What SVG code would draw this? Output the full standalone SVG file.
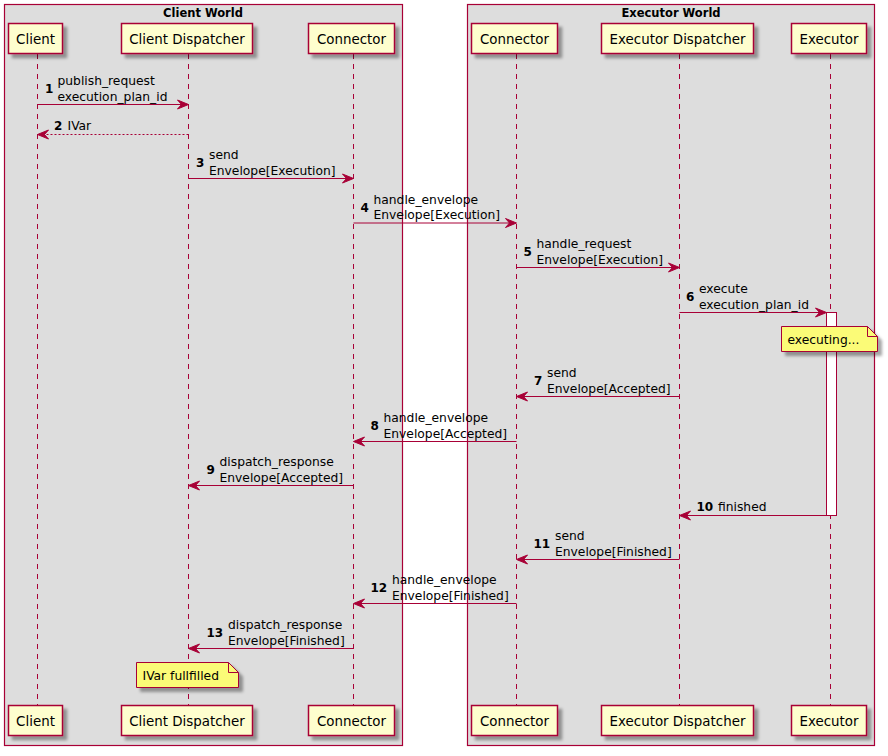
<svg xmlns="http://www.w3.org/2000/svg" width="888" height="756" viewBox="0 0 888 756">
<style>
  .grp { fill: #DDDDDD; stroke: #A80036; stroke-width: 1.2; }
  .gt { font-family: "DejaVu Sans", sans-serif; font-weight: bold; font-size: 11.5px; fill: #000; text-anchor: middle; }
  .part { fill: #FEFECE; stroke: #A80036; stroke-width: 1.5; }
  .pt { font-family: "DejaVu Sans", sans-serif; font-size: 13.4px; fill: #000; text-anchor: middle; }
  .life { stroke: #A80036; stroke-width: 1; stroke-dasharray: 5,5; fill: none; }
  .msg { stroke: #A80036; stroke-width: 1; fill: none; }
  .ret { stroke: #A80036; stroke-width: 1; stroke-dasharray: 2,2; fill: none; }
  .head { fill: #A80036; stroke: #A80036; stroke-width: 1; }
  .mt { font-family: "DejaVu Sans", sans-serif; font-size: 12.3px; fill: #000; }
  .num { font-family: "DejaVu Sans", sans-serif; font-size: 12px; font-weight: bold; fill: #000; }
  .note { fill: #FBFB77; stroke: #A80036; stroke-width: 1; }
  .act { fill: #FFFFFF; stroke: #A80036; stroke-width: 1; }
</style>
<defs>
  <filter id="sh" x="-20%" y="-20%" width="150%" height="160%">
    <feGaussianBlur in="SourceAlpha" stdDeviation="1.7"/>
    <feOffset dx="4" dy="4" result="b"/>
    <feColorMatrix in="b" type="matrix" values="0 0 0 0 0  0 0 0 0 0  0 0 0 0 0  0 0 0 0.35 0" result="c"/>
    <feMerge><feMergeNode in="c"/><feMergeNode in="SourceGraphic"/></feMerge>
  </filter>
</defs>
<rect width="888" height="756" fill="#FFFFFF"/>

<g id="client-world">
  <rect class="grp" x="4.5" y="4.5" width="398" height="741"/>
  <text class="gt" x="203" y="17">Client World</text>
</g>
<g id="executor-world">
  <rect class="grp" x="467.5" y="4.5" width="407" height="741"/>
  <text class="gt" x="671" y="17">Executor World</text>
</g>

<g id="lifelines">
  <line class="life" x1="37.5" y1="54" x2="37.5" y2="705"/>
  <line class="life" x1="188.5" y1="54" x2="188.5" y2="705"/>
  <line class="life" x1="353.5" y1="54" x2="353.5" y2="705"/>
  <line class="life" x1="516.5" y1="54" x2="516.5" y2="705"/>
  <line class="life" x1="679.5" y1="54" x2="679.5" y2="705"/>
  <line class="life" x1="830.5" y1="54" x2="830.5" y2="705"/>
</g>

<g id="p-client">
  <rect class="part" filter="url(#sh)" x="8.5" y="23.5" width="54" height="30"/>
  <text class="pt" x="35.5" y="44">Client</text>
  <rect class="part" filter="url(#sh)" x="8.5" y="705.5" width="54" height="30"/>
  <text class="pt" x="35.5" y="726">Client</text>
</g>
<g id="p-client-dispatcher">
  <rect class="part" filter="url(#sh)" x="121.5" y="23.5" width="131" height="30"/>
  <text class="pt" x="187" y="44">Client Dispatcher</text>
  <rect class="part" filter="url(#sh)" x="121.5" y="705.5" width="131" height="30"/>
  <text class="pt" x="187" y="726">Client Dispatcher</text>
</g>
<g id="p-connector-client">
  <rect class="part" filter="url(#sh)" x="308.5" y="23.5" width="86" height="30"/>
  <text class="pt" x="351.5" y="44">Connector</text>
  <rect class="part" filter="url(#sh)" x="308.5" y="705.5" width="86" height="30"/>
  <text class="pt" x="351.5" y="726">Connector</text>
</g>
<g id="p-connector-executor">
  <rect class="part" filter="url(#sh)" x="471.5" y="23.5" width="86" height="30"/>
  <text class="pt" x="514.5" y="44">Connector</text>
  <rect class="part" filter="url(#sh)" x="471.5" y="705.5" width="86" height="30"/>
  <text class="pt" x="514.5" y="726">Connector</text>
</g>
<g id="p-executor-dispatcher">
  <rect class="part" filter="url(#sh)" x="601.5" y="23.5" width="152" height="30"/>
  <text class="pt" x="677.5" y="44">Executor Dispatcher</text>
  <rect class="part" filter="url(#sh)" x="601.5" y="705.5" width="152" height="30"/>
  <text class="pt" x="677.5" y="726">Executor Dispatcher</text>
</g>
<g id="p-executor">
  <rect class="part" filter="url(#sh)" x="791.5" y="23.5" width="75" height="30"/>
  <text class="pt" x="829" y="44">Executor</text>
  <rect class="part" filter="url(#sh)" x="791.5" y="705.5" width="75" height="30"/>
  <text class="pt" x="829" y="726">Executor</text>
</g>

<g id="activation">
  <rect class="act" x="826.5" y="312.5" width="10" height="203"/>
</g>

<g id="connectors">
  <!-- 1 -->
  <line class="msg" x1="37.5" y1="104.5" x2="186" y2="104.5"/>
  <polygon class="head" points="177.5,100 188.5,104.5 177.5,109 181.5,104.5"/>
  <!-- 2 -->
  <line class="ret" x1="188.5" y1="134.5" x2="40" y2="134.5"/>
  <polygon class="head" points="48.5,130 37.5,134.5 48.5,139 44.5,134.5"/>
  <!-- 3 -->
  <line class="msg" x1="188.5" y1="178.5" x2="351" y2="178.5"/>
  <polygon class="head" points="342.5,174 353.5,178.5 342.5,183 346.5,178.5"/>
  <!-- 4 -->
  <line class="msg" x1="353.5" y1="223" x2="514" y2="223"/>
  <polygon class="head" points="505.5,218.5 516.5,223 505.5,227.5 509.5,223"/>
  <!-- 5 -->
  <line class="msg" x1="516.5" y1="267.5" x2="677" y2="267.5"/>
  <polygon class="head" points="668.5,263 679.5,267.5 668.5,272 672.5,267.5"/>
  <!-- 6 -->
  <line class="msg" x1="679.5" y1="312.5" x2="824" y2="312.5"/>
  <polygon class="head" points="815.5,308 826.5,312.5 815.5,317 819.5,312.5"/>
  <!-- 7 -->
  <line class="msg" x1="679.5" y1="396.5" x2="519" y2="396.5"/>
  <polygon class="head" points="527.5,392 516.5,396.5 527.5,401 523.5,396.5"/>
  <!-- 8 -->
  <line class="msg" x1="516.5" y1="441.5" x2="356" y2="441.5"/>
  <polygon class="head" points="364.5,437 353.5,441.5 364.5,446 360.5,441.5"/>
  <!-- 9 -->
  <line class="msg" x1="353.5" y1="485.5" x2="191" y2="485.5"/>
  <polygon class="head" points="199.5,481 188.5,485.5 199.5,490 195.5,485.5"/>
  <!-- 10 -->
  <line class="msg" x1="826.5" y1="515.5" x2="682" y2="515.5"/>
  <polygon class="head" points="690.5,511 679.5,515.5 690.5,520 686.5,515.5"/>
  <!-- 11 -->
  <line class="msg" x1="679.5" y1="559.5" x2="519" y2="559.5"/>
  <polygon class="head" points="527.5,555 516.5,559.5 527.5,564 523.5,559.5"/>
  <!-- 12 -->
  <line class="msg" x1="516.5" y1="603.5" x2="356" y2="603.5"/>
  <polygon class="head" points="364.5,599 353.5,603.5 364.5,608 360.5,603.5"/>
  <!-- 13 -->
  <line class="msg" x1="353.5" y1="648.5" x2="191" y2="648.5"/>
  <polygon class="head" points="199.5,644 188.5,648.5 199.5,653 195.5,648.5"/>
</g>

<g id="labels">
  <text class="num" x="45" y="93">1</text>
  <text class="mt" x="57.5" y="85">publish_request</text>
  <text class="mt" x="57.5" y="100.5">execution_plan_id</text>

  <text class="num" x="54" y="130">2</text>
  <text class="mt" x="67.5" y="130">IVar</text>

  <text class="num" x="196" y="167">3</text>
  <text class="mt" x="209" y="159">send</text>
  <text class="mt" x="209" y="174.5">Envelope[Execution]</text>

  <text class="num" x="360.5" y="212">4</text>
  <text class="mt" x="373.5" y="204">handle_envelope</text>
  <text class="mt" x="373.5" y="219">Envelope[Execution]</text>

  <text class="num" x="523.5" y="256">5</text>
  <text class="mt" x="536.5" y="248">handle_request</text>
  <text class="mt" x="536.5" y="263.5">Envelope[Execution]</text>

  <text class="num" x="686" y="301">6</text>
  <text class="mt" x="699" y="293">execute</text>
  <text class="mt" x="699" y="308.5">execution_plan_id</text>

  <text class="num" x="534" y="385">7</text>
  <text class="mt" x="547" y="377">send</text>
  <text class="mt" x="547" y="392.5">Envelope[Accepted]</text>

  <text class="num" x="370.5" y="430">8</text>
  <text class="mt" x="383.5" y="422">handle_envelope</text>
  <text class="mt" x="383.5" y="437.5">Envelope[Accepted]</text>

  <text class="num" x="206.5" y="474">9</text>
  <text class="mt" x="219.5" y="466">dispatch_response</text>
  <text class="mt" x="219.5" y="481.5">Envelope[Accepted]</text>

  <text class="num" x="696.5" y="511">10</text>
  <text class="mt" x="718" y="511">finished</text>

  <text class="num" x="533.5" y="548">11</text>
  <text class="mt" x="555" y="540">send</text>
  <text class="mt" x="555" y="555.5">Envelope[Finished]</text>

  <text class="num" x="370.5" y="592">12</text>
  <text class="mt" x="392" y="584">handle_envelope</text>
  <text class="mt" x="392" y="599.5">Envelope[Finished]</text>

  <text class="num" x="206.5" y="637">13</text>
  <text class="mt" x="228" y="629">dispatch_response</text>
  <text class="mt" x="228" y="644.5">Envelope[Finished]</text>
</g>

<g id="note-executing">
  <path class="note" filter="url(#sh)" d="M781.5,326.5 L867.5,326.5 L877.5,336.5 L877.5,351.5 L781.5,351.5 Z"/>
  <path d="M867.5,326.5 L867.5,336.5 L877.5,336.5" fill="none" stroke="#A80036" stroke-width="1"/>
  <text class="mt" x="787.5" y="344" font-size="13">executing...</text>
</g>

<g id="note-ivar">
  <path class="note" filter="url(#sh)" d="M136.5,662.5 L228.5,662.5 L238.5,672.5 L238.5,687.5 L136.5,687.5 Z"/>
  <path d="M228.5,662.5 L228.5,672.5 L238.5,672.5" fill="none" stroke="#A80036" stroke-width="1"/>
  <text class="mt" x="142.5" y="680" font-size="13">IVar fullfilled</text>
</g>
</svg>
